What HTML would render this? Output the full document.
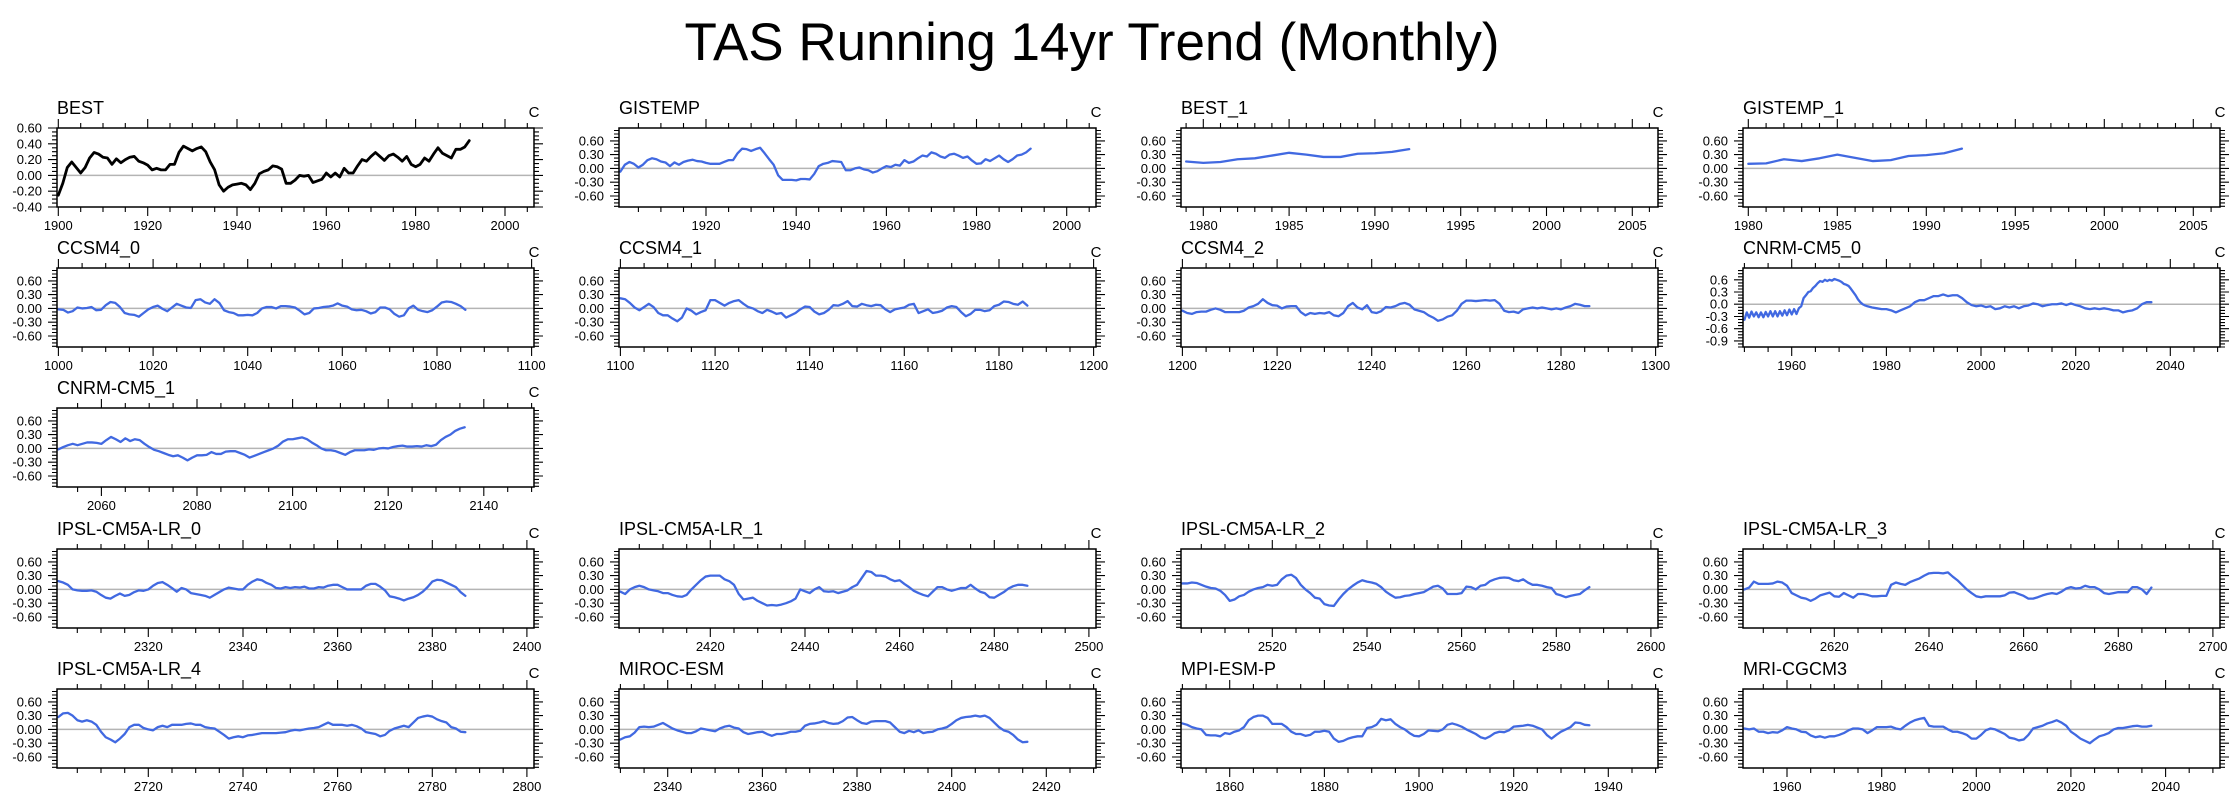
<!DOCTYPE html>
<html>
<head>
<meta charset="utf-8">
<style>
  html,body{margin:0;padding:0;background:#fff;}
  body{width:2239px;height:806px;overflow:hidden;font-family:"Liberation Sans",Arial,sans-serif;}
  svg text{font-family:"Liberation Sans",Arial,sans-serif;}
</style>
</head>
<body>
<svg id="fig" width="2239" height="806" viewBox="0 0 2239 806" xmlns="http://www.w3.org/2000/svg">
  <text x="1092" y="60" font-size="53" text-anchor="middle" fill="#000">TAS Running 14yr Trend (Monthly)</text>
</svg>
<script>
// ---------- data (anomaly trend, C) ----------
const bestStart = 1900;
const bestVals = [-0.25,-0.1,0.1,0.17,0.1,0.03,0.1,0.22,0.29,0.27,0.23,0.22,0.14,0.21,0.16,0.2,0.23,0.24,0.18,0.16,0.13,0.07,0.09,0.07,0.07,0.14,0.14,0.29,0.37,0.34,0.31,0.34,0.36,0.3,0.17,0.07,-0.12,-0.2,-0.15,-0.12,-0.11,-0.1,-0.12,-0.18,-0.1,0.02,0.05,0.07,0.12,0.11,0.08,-0.1,-0.1,-0.06,0.0,-0.01,0.0,-0.09,-0.07,-0.05,0.03,-0.02,0.03,-0.02,0.09,0.03,0.03,0.12,0.2,0.18,0.24,0.29,0.24,0.19,0.25,0.27,0.23,0.18,0.24,0.14,0.11,0.14,0.22,0.18,0.27,0.35,0.28,0.25,0.22,0.33,0.33,0.36,0.44];
const gistempStart = 1901;
const gistempVals = [-0.07,0.08,0.14,0.1,0.02,0.08,0.18,0.22,0.2,0.15,0.13,0.05,0.13,0.08,0.14,0.17,0.19,0.16,0.15,0.12,0.1,0.1,0.1,0.14,0.18,0.18,0.33,0.43,0.42,0.38,0.42,0.45,0.33,0.2,0.08,-0.15,-0.25,-0.25,-0.25,-0.26,-0.23,-0.23,-0.24,-0.12,0.05,0.1,0.12,0.16,0.15,0.14,-0.04,-0.04,0.0,0.02,-0.02,-0.04,-0.09,-0.06,0.0,0.05,0.03,0.08,0.06,0.18,0.12,0.15,0.22,0.28,0.26,0.35,0.32,0.26,0.23,0.3,0.32,0.28,0.23,0.26,0.17,0.1,0.11,0.2,0.16,0.22,0.28,0.2,0.14,0.2,0.28,0.3,0.35,0.43];
const best1Start = 1979;
const best1Vals = [0.15,0.12,0.14,0.2,0.22,0.28,0.34,0.3,0.25,0.25,0.32,0.33,0.36,0.42];
const gistemp1Start = 1980;
const gistemp1Vals = [0.1,0.11,0.2,0.16,0.22,0.3,0.23,0.16,0.18,0.27,0.29,0.33,0.43];
const ccsm0Start = 1000;
const ccsm0Vals = [-0.02,-0.03,-0.09,-0.06,0.02,0.0,0.01,0.03,-0.04,-0.03,0.07,0.14,0.12,0.03,-0.1,-0.13,-0.14,-0.18,-0.1,-0.02,0.03,0.06,-0.01,-0.06,0.02,0.1,0.06,0.02,0.01,0.18,0.2,0.13,0.1,0.2,0.12,-0.04,-0.08,-0.1,-0.15,-0.15,-0.14,-0.15,-0.1,0.0,0.03,0.03,0.0,0.05,0.05,0.04,0.02,-0.05,-0.13,-0.1,0.0,0.01,0.03,0.04,0.06,0.11,0.06,0.04,-0.02,-0.04,-0.03,-0.06,-0.11,-0.08,0.02,0.02,-0.02,-0.12,-0.18,-0.15,0.0,0.06,-0.03,-0.06,-0.08,-0.04,0.04,0.13,0.15,0.14,0.1,0.05,-0.03];
const ccsm1Start = 1100;
const ccsm1Vals = [0.22,0.2,0.12,0.02,-0.04,0.03,0.1,0.03,-0.1,-0.15,-0.15,-0.22,-0.28,-0.2,0.0,-0.05,-0.13,-0.08,-0.04,0.18,0.18,0.12,0.06,0.12,0.16,0.18,0.1,0.03,0.0,-0.06,-0.1,-0.03,-0.07,-0.12,-0.1,-0.2,-0.15,-0.1,-0.02,0.04,0.03,-0.07,-0.13,-0.1,-0.03,0.07,0.06,0.1,0.16,0.05,0.04,0.1,0.07,0.05,0.08,0.07,-0.02,-0.08,-0.02,0.0,0.02,0.08,0.1,-0.1,-0.06,-0.02,-0.1,-0.08,-0.05,0.02,0.05,0.03,-0.08,-0.17,-0.12,-0.03,-0.03,-0.06,-0.04,0.05,0.08,0.15,0.14,0.1,0.08,0.15,0.06];
const ccsm2Start = 1200;
const ccsm2Vals = [-0.05,-0.1,-0.12,-0.08,-0.07,-0.07,-0.03,0.0,-0.03,-0.08,-0.08,-0.08,-0.08,-0.05,0.02,0.05,0.1,0.2,0.12,0.07,0.06,0.0,0.04,0.05,0.05,-0.08,-0.15,-0.1,-0.12,-0.1,-0.11,-0.08,-0.15,-0.17,-0.1,0.05,0.12,0.02,-0.02,0.07,-0.08,-0.1,-0.06,0.03,0.02,0.05,0.1,0.12,0.08,-0.02,-0.05,-0.08,-0.15,-0.2,-0.27,-0.24,-0.18,-0.15,-0.05,0.1,0.17,0.17,0.16,0.17,0.18,0.17,0.18,0.1,-0.05,-0.08,-0.07,-0.1,-0.02,0.0,0.02,0.0,0.02,0.0,-0.02,0.0,-0.02,0.02,0.05,0.1,0.08,0.05,0.05];
const cnrm0Years = [1950,1950.5,1951,1951.5,1952,1952.5,1953,1953.5,1954,1954.5,1955,1955.5,1956,1956.5,1957,1957.5,1958,1958.5,1959,1959.5,1960,1960.5,1961,1961.5,1962,1962.5,1963,1963.5,1964,1964.5,1965,1965.5,1966,1966.5,1967,1967.5,1968,1968.5,1969,1969.5,1970,1970.5,1971,1971.5,1972,1972.5,1973,1973.5,1974,1974.5,1975,1975.5,1976,1977,1978,1979,1980,1981,1982,1983,1984,1985,1986,1987,1988,1989,1990,1991,1992,1993,1994,1995,1996,1997,1998,1999,2000,2001,2002,2003,2004,2005,2006,2007,2008,2009,2010,2011,2012,2013,2014,2015,2016,2017,2018,2019,2020,2021,2022,2023,2024,2025,2026,2027,2028,2029,2030,2031,2032,2033,2034,2035,2036];
const cnrm0Vals = [-0.38,-0.2,-0.33,-0.18,-0.3,-0.2,-0.32,-0.2,-0.32,-0.19,-0.3,-0.17,-0.3,-0.17,-0.3,-0.17,-0.28,-0.15,-0.27,-0.13,-0.25,-0.12,-0.24,-0.1,-0.05,0.15,0.22,0.3,0.32,0.4,0.45,0.52,0.57,0.55,0.6,0.57,0.6,0.58,0.62,0.6,0.58,0.55,0.5,0.48,0.45,0.38,0.3,0.22,0.12,0.05,0.0,-0.03,-0.05,-0.08,-0.1,-0.12,-0.12,-0.15,-0.2,-0.15,-0.1,-0.05,0.05,0.1,0.1,0.15,0.2,0.2,0.24,0.2,0.22,0.22,0.15,0.05,-0.02,-0.05,-0.03,-0.07,-0.05,-0.12,-0.1,-0.05,-0.08,-0.05,-0.1,-0.05,-0.03,0.02,0.0,-0.05,-0.02,0.0,0.0,0.02,-0.02,0.02,-0.02,-0.05,-0.1,-0.12,-0.1,-0.12,-0.1,-0.12,-0.15,-0.15,-0.2,-0.17,-0.15,-0.1,0.0,0.05,0.05];
const cnrm1Start = 2051;
const cnrm1Vals = [-0.02,0.03,0.07,0.1,0.07,0.1,0.13,0.13,0.12,0.1,0.18,0.25,0.2,0.14,0.22,0.16,0.2,0.18,0.1,0.03,-0.03,-0.06,-0.1,-0.14,-0.17,-0.15,-0.2,-0.26,-0.2,-0.15,-0.15,-0.14,-0.08,-0.12,-0.12,-0.07,-0.06,-0.06,-0.1,-0.14,-0.2,-0.16,-0.12,-0.08,-0.04,0.0,0.06,0.15,0.2,0.2,0.22,0.24,0.2,0.13,0.07,0.0,-0.04,-0.04,-0.06,-0.1,-0.14,-0.08,-0.04,-0.04,-0.04,-0.02,-0.03,0.0,0.01,0.0,0.03,0.05,0.06,0.04,0.04,0.05,0.04,0.07,0.05,0.08,0.18,0.25,0.3,0.38,0.43,0.46];
const ipsl0Start = 2301;
const ipsl0Vals = [0.18,0.15,0.1,0.0,-0.02,-0.03,-0.03,-0.02,-0.05,-0.12,-0.18,-0.2,-0.14,-0.09,-0.14,-0.12,-0.06,-0.02,-0.03,0.0,0.08,0.14,0.16,0.1,0.03,-0.05,0.03,0.0,-0.08,-0.1,-0.12,-0.14,-0.18,-0.12,-0.06,0.0,0.04,0.02,0.0,0.0,0.1,0.17,0.22,0.2,0.14,0.1,0.03,0.02,0.05,0.03,0.05,0.04,0.06,0.02,0.02,0.05,0.04,0.08,0.1,0.1,0.05,0.0,0.0,0.0,0.0,0.08,0.12,0.12,0.06,-0.02,-0.15,-0.17,-0.2,-0.24,-0.2,-0.17,-0.12,-0.05,0.05,0.17,0.21,0.2,0.15,0.1,0.05,-0.06,-0.14];
const ipsl1Start = 2401;
const ipsl1Vals = [-0.05,-0.1,0.0,0.05,0.08,0.05,0.0,-0.02,-0.04,-0.08,-0.08,-0.12,-0.15,-0.16,-0.12,0.0,0.1,0.2,0.28,0.3,0.3,0.3,0.22,0.18,0.1,-0.1,-0.22,-0.2,-0.18,-0.25,-0.3,-0.35,-0.34,-0.35,-0.33,-0.3,-0.26,-0.2,0.0,-0.04,-0.08,0.0,0.05,-0.04,-0.05,-0.04,-0.08,-0.05,-0.02,0.05,0.1,0.25,0.4,0.38,0.3,0.3,0.28,0.22,0.18,0.2,0.12,0.05,-0.03,-0.08,-0.12,-0.15,-0.05,0.05,0.05,0.0,-0.03,0.0,0.03,0.03,0.1,0.02,-0.05,-0.08,-0.17,-0.18,-0.12,-0.06,0.02,0.07,0.1,0.1,0.08];
const ipsl2Start = 2501;
const ipsl2Vals = [0.13,0.13,0.15,0.14,0.1,0.06,0.03,0.02,-0.03,-0.12,-0.25,-0.22,-0.15,-0.12,-0.05,0.0,0.03,0.05,0.1,0.08,0.1,0.22,0.3,0.32,0.25,0.1,0.0,-0.08,-0.18,-0.2,-0.32,-0.35,-0.36,-0.22,-0.1,0.0,0.08,0.15,0.2,0.17,0.15,0.12,0.05,-0.05,-0.12,-0.18,-0.17,-0.14,-0.13,-0.1,-0.08,-0.06,0.0,0.06,0.08,0.02,-0.1,-0.1,-0.1,-0.08,0.06,0.05,0.0,0.08,0.1,0.18,0.22,0.25,0.26,0.25,0.2,0.18,0.22,0.15,0.1,0.1,0.08,0.05,0.03,-0.1,-0.13,-0.17,-0.14,-0.12,-0.1,-0.02,0.05];
const ipsl3Start = 2601;
const ipsl3Vals = [0.0,0.04,0.17,0.12,0.12,0.12,0.13,0.17,0.15,0.08,-0.08,-0.13,-0.18,-0.2,-0.25,-0.2,-0.13,-0.1,-0.07,-0.15,-0.16,-0.08,-0.13,-0.18,-0.1,-0.1,-0.12,-0.15,-0.15,-0.14,-0.14,0.1,0.15,0.12,0.1,0.16,0.2,0.24,0.3,0.35,0.36,0.36,0.35,0.37,0.28,0.2,0.1,0.0,-0.08,-0.15,-0.17,-0.15,-0.15,-0.15,-0.15,-0.13,-0.07,-0.06,-0.1,-0.14,-0.2,-0.2,-0.17,-0.13,-0.1,-0.08,-0.1,-0.05,0.02,0.05,0.02,0.03,0.08,0.05,0.05,0.0,-0.08,-0.1,-0.08,-0.06,-0.06,-0.06,0.05,0.05,0.0,-0.1,0.04];
const ipsl4Start = 2701;
const ipsl4Vals = [0.27,0.35,0.36,0.3,0.2,0.17,0.2,0.17,0.1,-0.05,-0.17,-0.22,-0.28,-0.2,-0.1,0.05,0.1,0.1,0.03,0.0,-0.02,0.05,0.08,0.05,0.1,0.1,0.1,0.12,0.13,0.1,0.1,0.05,0.03,0.02,-0.05,-0.12,-0.2,-0.17,-0.15,-0.17,-0.13,-0.12,-0.1,-0.08,-0.08,-0.08,-0.08,-0.07,-0.06,-0.03,-0.01,-0.02,0.0,0.02,0.03,0.05,0.1,0.15,0.1,0.1,0.1,0.08,0.1,0.07,0.02,-0.06,-0.08,-0.1,-0.15,-0.12,-0.03,0.02,0.05,0.08,0.05,0.15,0.25,0.28,0.3,0.28,0.22,0.18,0.15,0.05,0.02,-0.05,-0.06];
const mirocStart = 2330;
const mirocVals = [-0.22,-0.17,-0.15,-0.07,0.05,0.06,0.05,0.06,0.1,0.14,0.08,0.02,-0.02,-0.05,-0.08,-0.08,-0.04,0.02,0.0,-0.02,-0.04,0.02,0.06,0.08,0.04,0.02,-0.06,-0.1,-0.08,-0.06,-0.05,-0.1,-0.14,-0.1,-0.1,-0.08,-0.05,-0.05,-0.03,0.08,0.12,0.13,0.15,0.18,0.14,0.12,0.13,0.18,0.26,0.27,0.2,0.14,0.12,0.17,0.18,0.18,0.18,0.15,0.05,-0.05,-0.08,-0.03,-0.06,-0.02,-0.08,-0.06,-0.05,0.0,0.02,0.05,0.12,0.2,0.25,0.27,0.28,0.3,0.28,0.3,0.25,0.15,0.05,-0.02,-0.05,-0.12,-0.22,-0.28,-0.27];
const mpiStart = 1850;
const mpiVals = [0.13,0.1,0.05,0.02,0.0,-0.12,-0.13,-0.13,-0.15,-0.08,-0.1,-0.05,-0.02,0.05,0.2,0.27,0.3,0.3,0.25,0.12,0.12,0.12,0.05,-0.05,-0.1,-0.1,-0.14,-0.12,-0.05,-0.05,-0.03,-0.05,-0.2,-0.27,-0.25,-0.2,-0.17,-0.15,-0.15,0.03,0.05,0.1,0.23,0.2,0.22,0.12,0.05,0.0,-0.08,-0.14,-0.15,-0.1,-0.02,-0.03,-0.04,0.0,0.1,0.13,0.1,0.06,0.0,-0.05,-0.1,-0.17,-0.2,-0.15,-0.08,-0.05,-0.06,-0.02,0.06,0.07,0.08,0.1,0.08,0.04,0.0,-0.12,-0.2,-0.12,-0.05,0.0,0.05,0.15,0.14,0.1,0.09];
const mriStart = 1951;
const mriVals = [0.02,0.0,0.02,-0.05,-0.05,-0.08,-0.06,-0.07,-0.02,0.05,0.02,0.0,-0.05,-0.06,-0.13,-0.17,-0.15,-0.18,-0.15,-0.15,-0.12,-0.08,-0.02,0.02,0.02,0.0,-0.08,-0.02,0.05,0.05,0.05,0.06,0.02,0.0,0.08,0.15,0.2,0.23,0.25,0.08,0.06,0.06,0.06,0.0,-0.05,-0.05,-0.08,-0.12,-0.2,-0.2,-0.12,-0.02,0.02,0.0,-0.05,-0.1,-0.18,-0.2,-0.24,-0.22,-0.12,0.02,0.05,0.08,0.13,0.16,0.2,0.15,0.08,-0.05,-0.12,-0.2,-0.25,-0.3,-0.22,-0.15,-0.12,-0.08,0.0,0.03,0.03,0.05,0.07,0.08,0.06,0.06,0.08];

// y-axis tick labels
const yTicksBest = [-0.4,-0.2,0.0,0.2,0.4,0.6];
const yTicksStd = [-0.6,-0.3,0.0,0.3,0.6];
const yTicksCnrm = [-0.9,-0.6,-0.3,0.0,0.3,0.6];

function yrs(start, n){ const a=[]; for(let i=0;i<n;i++) a.push(start+i); return a; }

const panels = [
  {name:"BEST", key:"best", col:0,row:0, years:yrs(bestStart,bestVals.length), vals:bestVals, color:"#000", lw:2.8, y:"best", major:20},
  {name:"GISTEMP", key:"gistemp", col:1,row:0, years:yrs(gistempStart,gistempVals.length), vals:gistempVals, color:"#4169e1", lw:2.3, y:"std", major:20},
  {name:"BEST_1", key:"best-1", col:2,row:0, years:yrs(best1Start,best1Vals.length), vals:best1Vals, color:"#4169e1", lw:2.3, y:"std", major:5},
  {name:"GISTEMP_1", key:"gistemp-1", col:3,row:0, years:yrs(gistemp1Start,gistemp1Vals.length), vals:gistemp1Vals, color:"#4169e1", lw:2.3, y:"std", major:5},
  {name:"CCSM4_0", key:"ccsm4-0", col:0,row:1, years:yrs(ccsm0Start,ccsm0Vals.length), vals:ccsm0Vals, color:"#4169e1", lw:2.3, y:"std", major:20},
  {name:"CCSM4_1", key:"ccsm4-1", col:1,row:1, years:yrs(ccsm1Start,ccsm1Vals.length), vals:ccsm1Vals, color:"#4169e1", lw:2.3, y:"std", major:20},
  {name:"CCSM4_2", key:"ccsm4-2", col:2,row:1, years:yrs(ccsm2Start,ccsm2Vals.length), vals:ccsm2Vals, color:"#4169e1", lw:2.3, y:"std", major:20},
  {name:"CNRM-CM5_0", key:"cnrm-cm5-0", col:3,row:1, years:cnrm0Years, vals:cnrm0Vals, color:"#4169e1", lw:2.3, y:"cnrm", major:20},
  {name:"CNRM-CM5_1", key:"cnrm-cm5-1", col:0,row:2, years:yrs(cnrm1Start,cnrm1Vals.length), vals:cnrm1Vals, color:"#4169e1", lw:2.3, y:"std", major:20},
  {name:"IPSL-CM5A-LR_0", key:"ipsl-0", col:0,row:3, years:yrs(ipsl0Start,ipsl0Vals.length), vals:ipsl0Vals, color:"#4169e1", lw:2.3, y:"std", major:20},
  {name:"IPSL-CM5A-LR_1", key:"ipsl-1", col:1,row:3, years:yrs(ipsl1Start,ipsl1Vals.length), vals:ipsl1Vals, color:"#4169e1", lw:2.3, y:"std", major:20},
  {name:"IPSL-CM5A-LR_2", key:"ipsl-2", col:2,row:3, years:yrs(ipsl2Start,ipsl2Vals.length), vals:ipsl2Vals, color:"#4169e1", lw:2.3, y:"std", major:20},
  {name:"IPSL-CM5A-LR_3", key:"ipsl-3", col:3,row:3, years:yrs(ipsl3Start,ipsl3Vals.length), vals:ipsl3Vals, color:"#4169e1", lw:2.3, y:"std", major:20},
  {name:"IPSL-CM5A-LR_4", key:"ipsl-4", col:0,row:4, years:yrs(ipsl4Start,ipsl4Vals.length), vals:ipsl4Vals, color:"#4169e1", lw:2.3, y:"std", major:20},
  {name:"MIROC-ESM", key:"miroc-esm", col:1,row:4, years:yrs(mirocStart,mirocVals.length), vals:mirocVals, color:"#4169e1", lw:2.3, y:"std", major:20},
  {name:"MPI-ESM-P", key:"mpi-esm-p", col:2,row:4, years:yrs(mpiStart,mpiVals.length), vals:mpiVals, color:"#4169e1", lw:2.3, y:"std", major:20},
  {name:"MRI-CGCM3", key:"mri-cgcm3", col:3,row:4, years:yrs(mriStart,mriVals.length), vals:mriVals, color:"#4169e1", lw:2.3, y:"std", major:20}
];

const COLS=[57,619,1181,1743], ROWS=[128,268,408,549,689], PW=477, PH=79;
const NS="http://www.w3.org/2000/svg";
const svg=document.getElementById("fig");

function mk(tag, attrs, parent){
  const e=document.createElementNS(NS,tag);
  for(const k in attrs) e.setAttribute(k,attrs[k]);
  (parent||svg).appendChild(e);
  return e;
}

panels.forEach(p=>{
  const L=COLS[p.col], T=ROWS[p.row], R=L+PW, B=T+PH;
  const x0=p.years[0]-0.3, x1=p.years[p.years.length-1]+14.5;
  let y0,y1,yt,fmt;
  if(p.y==="best"){y0=-0.4;y1=0.6;yt=yTicksBest;fmt=v=>v.toFixed(2);}
  else if(p.y==="cnrm"){y0=-1.05;y1=0.89;yt=yTicksCnrm;fmt=v=>v.toFixed(1);}
  else {y0=-0.84;y1=0.88;yt=yTicksStd;fmt=v=>v.toFixed(2);}
  const sx=v=>L+(v-x0)/(x1-x0)*PW;
  const sy=v=>B-(v-y0)/(y1-y0)*PH;

  const g=mk("g",{});
  
  

  const title=mk("text",{x:L,y:T-14,"font-size":18,fill:"#000"},g);
  title.textContent=p.name;
  
  
  const unit=mk("text",{x:R,y:T-11,"font-size":15,fill:"#000","text-anchor":"middle"},g);
  unit.textContent="C";
  
  

  const zl=mk("line",{x1:L,x2:R,y1:sy(0),y2:sy(0),stroke:"#b4b4b4","stroke-width":1.5},g);
  
  

  const minor = p.major===5 ? 1 : 5;
  let tickPath="";
  for(let v=Math.ceil(x0/minor)*minor; v<=x1+1e-9; v+=minor){
    const X=sx(v).toFixed(1);
    const isMaj = Math.abs(v/p.major-Math.round(v/p.major))<1e-9;
    const len = isMaj?9:5;
    tickPath+=`M${X} ${B}V${B+len}M${X} ${T}V${T-len}`;
    if(isMaj){
      const t=mk("text",{x:X,y:B+23,"font-size":13,"text-anchor":"middle",fill:"#000"},g);
      t.textContent=String(v);
      
      
    }
  }
  const ymaj=yt[1]-yt[0], ymin=ymaj/4;
  for(let k=Math.ceil(y0/ymin-1e-9); k*ymin<=y1+1e-9; k++){
    const v=k*ymin, Y=sy(v).toFixed(1);
    const isMaj = k%4===0 && yt.some(t=>Math.abs(t-v)<1e-6);
    const len = isMaj?9:5;
    tickPath+=`M${L} ${Y}H${L-len}M${R} ${Y}H${R+len}`;
  }
  yt.forEach(v=>{
    const t=mk("text",{x:L-15,y:(sy(v)+4.5).toFixed(1),"font-size":13,"text-anchor":"end",fill:"#000"},g);
    t.textContent=fmt(v);
    
    
  });
  const ticks=mk("path",{d:tickPath,stroke:"#000","stroke-width":1.1,fill:"none"},g);
  
  

  let d="";
  p.years.forEach((yr,i)=>{ d+=(i?"L":"M")+sx(yr).toFixed(2)+" "+sy(p.vals[i]).toFixed(2); });
  const line=mk("path",{d:d,stroke:p.color,"stroke-width":p.lw,fill:"none","stroke-linejoin":"round","stroke-linecap":"round"},g);
  
  

  const fr=mk("rect",{x:L,y:T,width:PW,height:PH,fill:"none",stroke:"#000","stroke-width":1.5},g);
  
  
});
</script>
</body>
</html>
